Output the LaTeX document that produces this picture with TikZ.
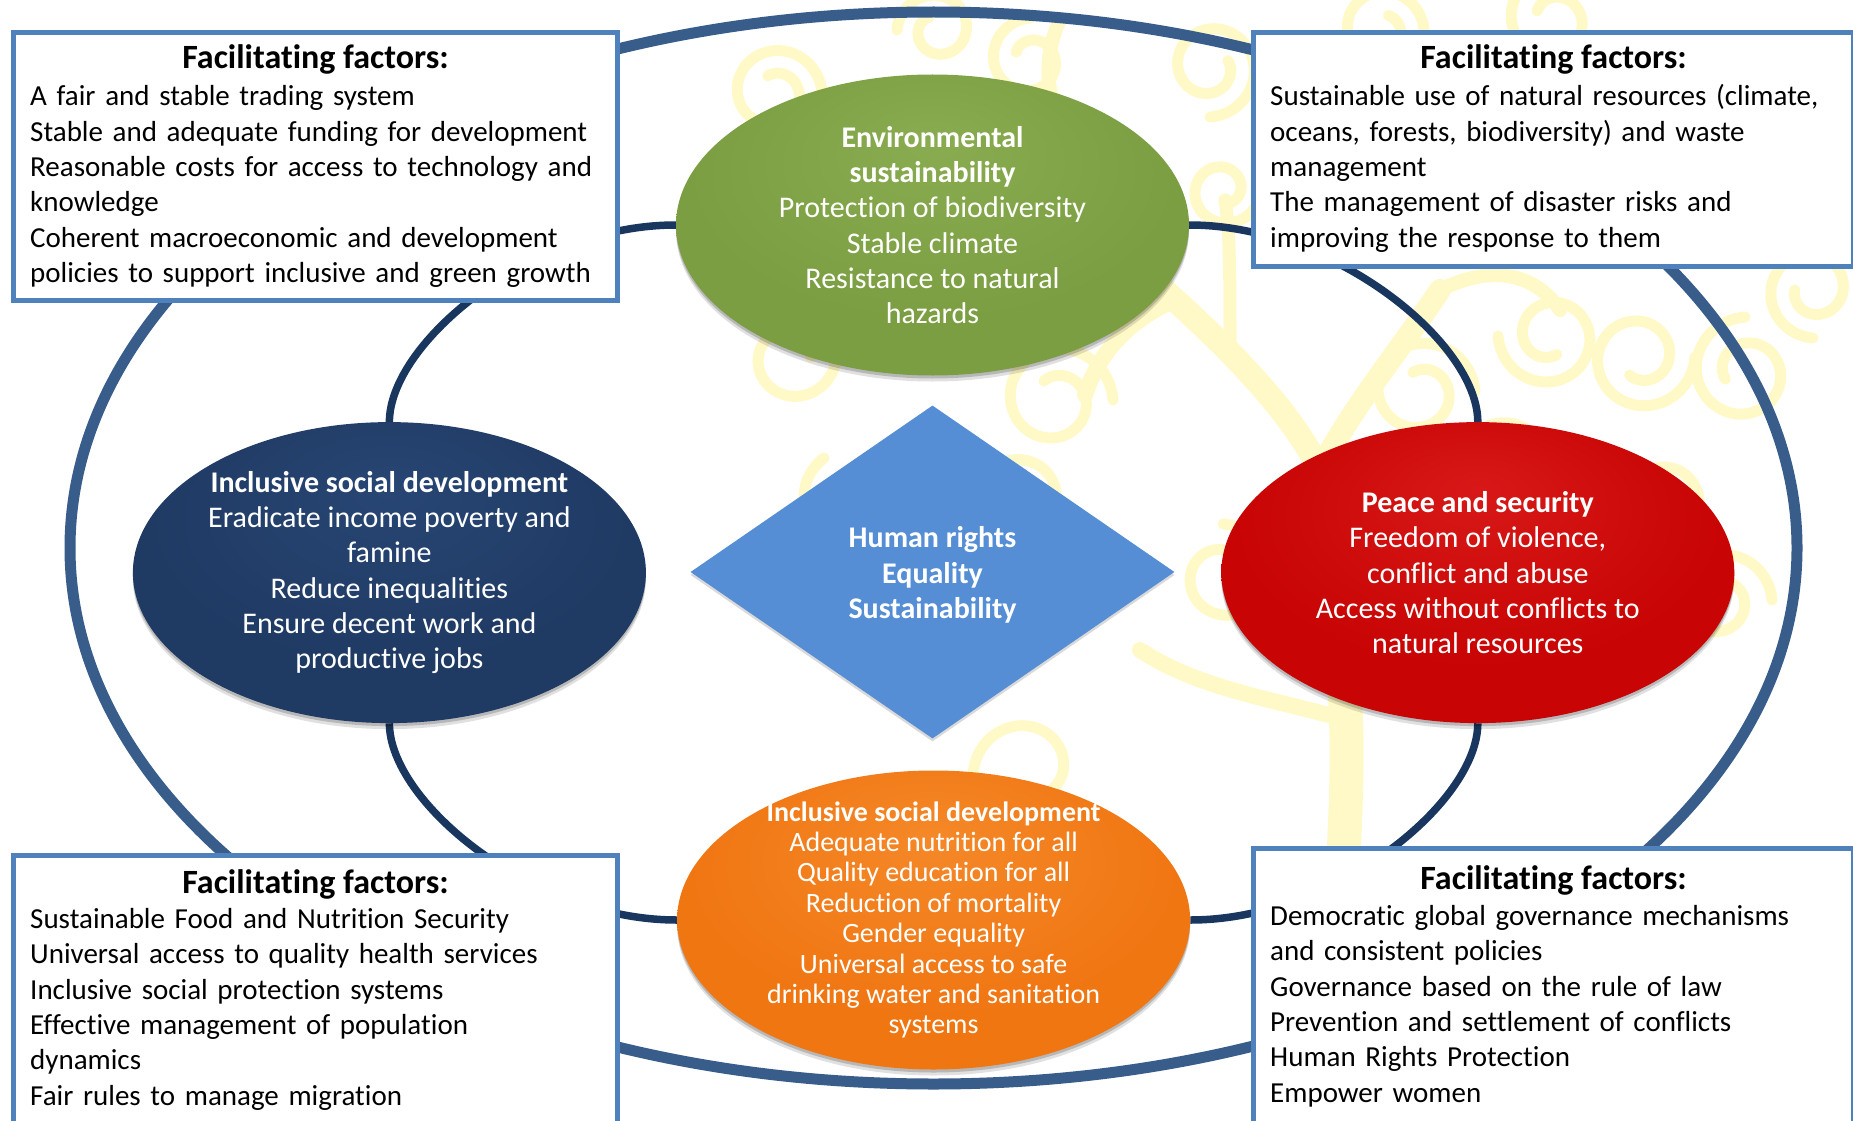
\documentclass[tikz,border=0pt]{standalone}
\usepackage{fontspec}
\setmainfont{Carlito}[Ligatures=CommonOff]
\usetikzlibrary{shapes.geometric,calc,shadows}

\pgfdeclarelayer{decor}
\pgfdeclarelayer{links}
\pgfsetlayers{decor,links,main}

\definecolor{ringblue}{RGB}{56,93,138}
\definecolor{linknavy}{RGB}{24,54,94}
\definecolor{boxblue}{RGB}{79,129,189}
\definecolor{treeyellow}{RGB}{255,249,200}
\definecolor{diamondblue}{RGB}{85,142,213}
\definecolor{greenbase}{RGB}{124,158,66}
\definecolor{greenlite}{RGB}{138,172,80}
\definecolor{greenrim}{RGB}{96,126,46}
\definecolor{navybase}{RGB}{31,58,99}
\definecolor{navylite}{RGB}{40,70,116}
\definecolor{navyrim}{RGB}{17,35,64}
\definecolor{redbase}{RGB}{200,4,4}
\definecolor{redlite}{RGB}{216,24,24}
\definecolor{redrim}{RGB}{148,0,0}
\definecolor{orangebase}{RGB}{240,118,18}
\definecolor{orangelite}{RGB}{245,136,40}
\definecolor{orangerim}{RGB}{204,92,10}

% bevelled fill for the goal ellipses, recomputed with the current colours
\pgfdeclareradialshading[ebase,elite,erim]{bevel}{\pgfpoint{0bp}{14bp}}{%
  color(0bp)=(elite); color(24bp)=(ebase); color(45bp)=(ebase);
  color(50bp)=(erim); color(56bp)=(erim)}

% a decorative spiral: centre x, centre y (downwards), radius, sweep, start angle, turn sense
\newcommand\treeswirl[6]{%
  \draw[swirlline] plot[domain=0:#4, samples=80, smooth, variable=\t]
    ({#1+#3*(1-0.62*\t/#4)*cos(#5+#6*\t)},
     {-#2+#3*(1-0.62*\t/#4)*sin(#5+#6*\t)});}

\tikzset{
  swirlline/.style={treeyellow, line width=11, line cap=round},
  branchline/.style={treeyellow, line cap=round, line join=round},
  ringline/.style={ringblue, line width=11},
  linkline/.style={linknavy, line width=7.5},
  factbox/.style={draw=boxblue, line width=5, fill=white, inner sep=0pt},
  fftitle/.style={inner sep=0pt, font=\fontsize{34}{36}\selectfont\bfseries},
  ffbody/.style={inner sep=0pt, align=left, text width=640, font=\fontsize{29}{35.3}\selectfont},
  goal/.style n args={3}{ellipse, inner sep=0pt, minimum width=513, minimum height=301,
    /utils/exec={\colorlet{ebase}{#1}\colorlet{elite}{#2}\colorlet{erim}{#3}},
    shading=bevel,
    general shadow={shadow yshift=-6pt, opacity=0.12, fill=black},
    general shadow={shadow yshift=-3pt, opacity=0.18, fill=black}},
  goaltext/.style={inner sep=0pt, text=white, align=center, font=\fontsize{30}{35.3}\selectfont},
}

\begin{document}
\begin{tikzpicture}[x=1pt,y=1pt]
\useasboundingbox (0,0) rectangle (1853,-1121);

% ---------------- background tree ----------------
\begin{pgfonlayer}{decor}
\fill[white] (0,0) rectangle (1853,-1121);
% trunk and the two main arms
\draw[branchline, line width=34] (1330,-1140) .. controls (1334,-960) and (1350,-820) .. (1346,-720)
   .. controls (1342,-620) and (1335,-530) .. (1320,-470);
\draw[branchline, line width=24] (1320,-470) .. controls (1290,-410) and (1230,-350) .. (1175,-300)
   .. controls (1130,-260) and (1090,-200) .. (1060,-120);
\draw[branchline, line width=22] (1320,-470) .. controls (1350,-410) and (1400,-350) .. (1440,-290);
% smaller branches
\draw[branchline, line width=16] (1175,-300) .. controls (1130,-320) and (1100,-350) .. (1085,-395);
\draw[branchline, line width=16] (1346,-720) .. controls (1280,-700) and (1200,-690) .. (1140,-650);
\draw[branchline, line width=14] (1440,-290) .. controls (1500,-260) and (1540,-280) .. (1560,-310);
\draw[branchline, line width=14] (1060,-120) .. controls (1040,-80) and (1050,-40) .. (1060,-20);
\draw[branchline, line width=13] (1230,-350) .. controls (1230,-280) and (1230,-230) .. (1225,-200);
% spirals
\treeswirl{774}{93}{48}{470}{0}{1}
\treeswirl{937}{30}{40}{420}{180}{-1}
\treeswirl{1030}{60}{42}{420}{90}{1}
\treeswirl{1210}{67}{50}{470}{270}{1}
\treeswirl{1223}{190}{38}{420}{0}{-1}
\treeswirl{791}{357}{52}{450}{90}{-1}
\treeswirl{1055}{400}{58}{480}{0}{1}
\treeswirl{1022}{500}{48}{420}{200}{-1}
\treeswirl{1550}{336}{52}{470}{180}{1}
\treeswirl{1640}{357}{55}{480}{0}{-1}
\treeswirl{1745}{372}{55}{470}{90}{1}
\treeswirl{1813}{290}{48}{450}{270}{-1}
\treeswirl{1500}{465}{48}{450}{0}{1}
\treeswirl{1420}{392}{55}{470}{0}{1}
\treeswirl{1223}{576}{52}{450}{90}{-1}
\treeswirl{1720}{600}{52}{420}{0}{1}
\treeswirl{1553}{20}{48}{420}{90}{1}
\treeswirl{1700}{220}{48}{450}{0}{-1}
\treeswirl{1029}{771}{58}{300}{200}{-1}
\treeswirl{850}{503}{52}{300}{120}{1}
\treeswirl{1660}{500}{52}{450}{180}{1}
\treeswirl{1380}{30}{44}{420}{0}{1}
\end{pgfonlayer}

% ---------------- outer ring ----------------
\begin{pgfonlayer}{links}
\draw[ringline] (933.5,-548) ellipse [x radius=863.5, y radius=536];
\end{pgfonlayer}

% ---------------- goals ----------------
\node[goal={greenbase}{greenlite}{greenrim}] (env) at (932.5,-225) {};
\node[goaltext] (envt) at (env.center)
  {\textbf{Environmental}\\\textbf{sustainability}\\Protection of biodiversity\\Stable climate\\Resistance to natural\\hazards};
\node[goal={navybase}{navylite}{navyrim}] (isd) at (389.4,-572.6) {};
\node[goaltext] (isdt) at (isd.center)
  {\textbf{Inclusive social development}\\Eradicate income poverty and\\famine\\Reduce inequalities\\Ensure decent work and\\productive jobs};
\node[goal={redbase}{redlite}{redrim}] (peace) at (1477.8,-572.6) {};
\node[goaltext] (peacet) at (peace.center)
  {\textbf{Peace and security}\\Freedom of violence,\\conflict and abuse\\Access without conflicts to\\natural resources};
\node[goal={orangebase}{orangelite}{orangerim}, minimum height=299] (nut) at (933.6,-920) {};
\node[goaltext, font=\fontsize{28}{30.4}\selectfont] (nutt) at (nut.center)
  {\textbf{Inclusive social development}\\Adequate nutrition for all\\Quality education for all\\Reduction of mortality\\Gender equality\\Universal access to safe\\drinking water and sanitation\\systems};

\node[diamond, aspect=1.45, inner sep=0pt, minimum width=484, minimum height=333,
      fill=diamondblue,
      general shadow={shadow yshift=-3pt, opacity=0.15, fill=black}] (core) at (932.5,-572) {};
\node[goaltext, font=\fontsize{30}{35.3}\selectfont\bfseries] (coret) at ($(core.center)+(0,-3)$)
  {Human rights\\Equality\\Sustainability};

% ---------------- facilitating factors ----------------
\node[factbox, minimum width=604, minimum height=268, anchor=north west] (ftl) at (11,-30) {};
\node[factbox, minimum width=600, minimum height=234, anchor=north west] (ftr) at (1251,-30) {};
\node[factbox, minimum width=604, minimum height=300, anchor=north west] (fbl) at (11,-853) {};
\node[factbox, minimum width=600, minimum height=307, anchor=north west] (fbr) at (1251,-846) {};

\node[fftitle, anchor=base] (ftlh) at ($(ftl.north)+(0,-39)$) {Facilitating factors:};
\node[ffbody, anchor=base west] (ftlb) at ($(ftl.north west)+(19,-76)$)
  {A fair and stable trading system\\Stable and adequate funding for development\\Reasonable costs for access to technology and\\knowledge\\Coherent macroeconomic and development\\policies to support inclusive and green growth};

\node[fftitle, anchor=base] (ftrh) at ($(ftr.north)+(0,-39)$) {Facilitating factors:};
\node[ffbody, anchor=base west] (ftrb) at ($(ftr.north west)+(19,-76)$)
  {Sustainable use of natural resources (climate,\\oceans, forests, biodiversity) and waste\\management\\The management of disaster risks and\\improving the response to them};

\node[fftitle, anchor=base] (fblh) at ($(fbl.north)+(0,-40)$) {Facilitating factors:};
\node[ffbody, anchor=base west] (fblb) at ($(fbl.north west)+(19,-75.5)$)
  {Sustainable Food and Nutrition Security\\Universal access to quality health services\\Inclusive social protection systems\\Effective management of population\\dynamics\\Fair rules to manage migration};

\node[fftitle, anchor=base] (fbrh) at ($(fbr.north)+(0,-43)$) {Facilitating factors:};
\node[ffbody, anchor=base west] (fbrb) at ($(fbr.north west)+(19,-79.5)$)
  {Democratic global governance mechanisms\\and consistent policies\\Governance based on the rule of law\\Prevention and settlement of conflicts\\Human Rights Protection\\Empower women};

% ---------------- inner ring linking the goals ----------------
\begin{pgfonlayer}{links}
\draw[linkline] (env.west) .. controls +(-144,0) and +(0,79) .. (isd.north);
\draw[linkline] (isd.south) .. controls +(0,-79) and +(-144,0) .. (nut.west);
\draw[linkline] (nut.east) .. controls +(144,0) and +(0,-79) .. (peace.south);
\draw[linkline] (peace.north) .. controls +(0,79) and +(144,0) .. (env.east);
\end{pgfonlayer}
\end{tikzpicture}
\end{document}
